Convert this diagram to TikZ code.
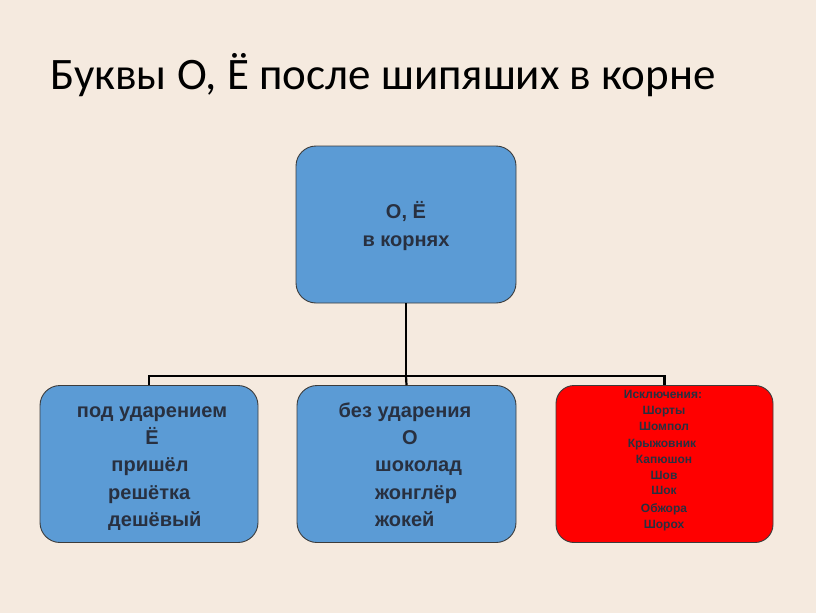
\documentclass[tikz,border=0pt]{standalone}
\usepackage{fontspec}
\setmainfont{Liberation Sans}
\newfontfamily\titlefont{Carlito}
\definecolor{bgc}{RGB}{245,234,223}
\definecolor{boxblue}{RGB}{91,155,213}
\definecolor{boxred}{RGB}{255,0,0}
\definecolor{txtc}{RGB}{40,48,64}
\definecolor{edgec}{RGB}{60,60,60}
\begin{document}
\begin{tikzpicture}[x=1pt,y=-1pt,
  card/.style={draw=edgec,line width=0.9pt,rounded corners=20pt,minimum height=157pt,inner sep=0pt},
  bluecard/.style={card,fill=boxblue},
  redcard/.style={card,fill=boxred,rounded corners=18pt},
  bigtxt/.style={text=txtc,font=\bfseries\fontsize{20}{20}\selectfont,inner sep=0pt,anchor=base},
  bigtxtl/.style={bigtxt,anchor=base west},
  smalltxt/.style={text=txtc,font=\bfseries\fontsize{12}{12}\selectfont,inner sep=0pt,anchor=base},
  conn/.style={line width=2.2pt,draw=black}]
\fill[bgc] (0,0) rectangle (816,613);
\useasboundingbox (0,0) rectangle (816,613);
\node[anchor=base west,inner sep=0pt,text=black,font=\titlefont\fontsize{45}{45}\selectfont] (title) at (50,89) {Буквы О, Ё после шипяших в корне};
\node[bluecard,minimum width=220pt] (top) at (406,224.5) {};
\node[bluecard,minimum width=218pt] (left) at (149,464) {};
\node[bluecard,minimum width=219pt] (mid) at (406.5,464) {};
\node[redcard,minimum width=217pt] (right) at (664.5,464) {};
\coordinate (j) at (406,376);
\draw[conn] (top.south) -- (j);
\draw[conn] (left.north) -- (left.north |- j) -- (right.north |- j) -- (right.north);
\draw[conn] (j) -- (mid.north);
% top text
\node[bigtxt] (t1) at (406,218) {О, Ё};
\node[bigtxt] (t2) at (406,246) {в корнях};
% left text
\node[bigtxt] (l1) at (152,417) {под ударением};
\node[bigtxt] (l2) at (152,444) {Ё};
\node[bigtxt] (l3) at (150,471) {пришёл};
\node[bigtxtl] (l4) at (108,499) {решётка};
\node[bigtxtl] (l5) at (108,526) {дешёвый};
% middle text
\node[bigtxt] (m1) at (405,417) {без ударения};
\node[bigtxt] (m2) at (410,444) {О};
\node[bigtxtl] (m3) at (375,471) {шоколад};
\node[bigtxtl] (m4) at (375,499) {жонглёр};
\node[bigtxtl] (m5) at (375,526) {жокей};
% right text
\node[smalltxt] (r1) at (663,398) {Исключения:};
\node[smalltxt] (r2) at (664,414) {Шорты};
\node[smalltxt] (r3) at (664,430) {Шомпол};
\node[smalltxt] (r4) at (662,447) {Крыжовник};
\node[smalltxt] (r5) at (664,463) {Капюшон};
\node[smalltxt] (r6) at (664,479) {Шов};
\node[smalltxt] (r7) at (664,494) {Шок};
\node[smalltxt] (r8) at (664,512) {Обжора};
\node[smalltxt] (r9) at (664,528) {Шорох};
\end{tikzpicture}
\end{document}
